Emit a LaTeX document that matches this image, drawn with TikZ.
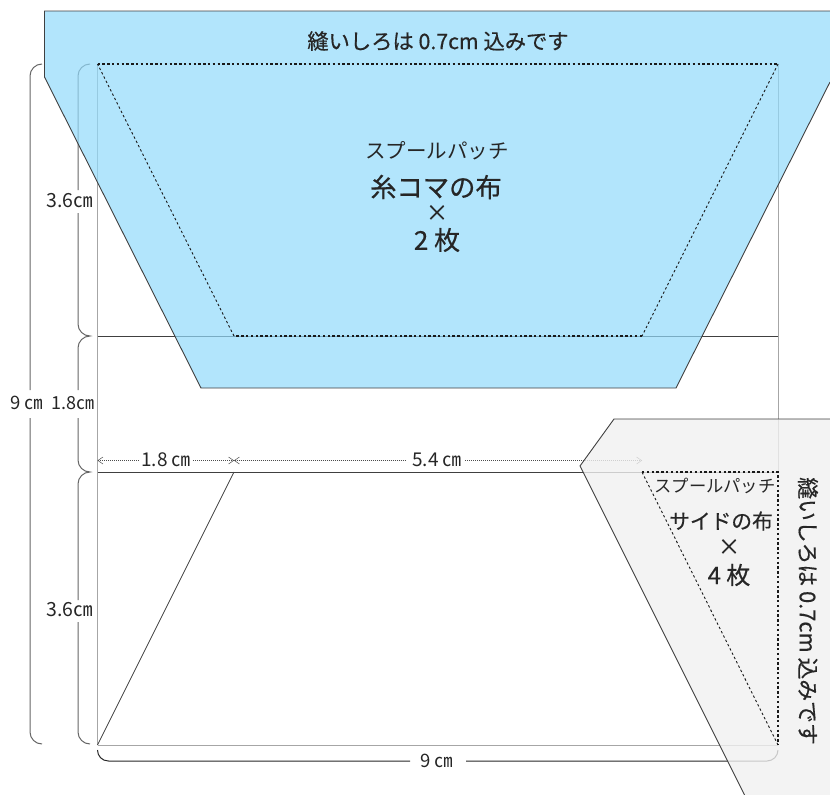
\documentclass[tikz,border=0pt]{standalone}
\usepackage{fontspec}
\setmainfont{Noto Sans CJK JP}
\newfontfamily\strongfont[FakeBold=0.5]{Noto Sans CJK JP}
\usetikzlibrary{arrows.meta}
\definecolor{ink}{HTML}{262626}
\definecolor{bluefill}{RGB}{146,218,251}
\definecolor{greyfill}{RGB}{240,240,240}
\tikzset{
  guide/.style={draw=black!35,line width=0.8pt},
  panel/.style={draw=black!75,line width=0.9pt},
  brace/.style={draw=black!60,line width=1pt},
  seam/.style={draw=black!90,line width=1.1pt,dash pattern=on 2.4pt off 2.4pt},
  seamthin/.style={draw=black!90,line width=0.9pt,dash pattern=on 2.4pt off 2.4pt},
  dim/.style={draw=black!70,line width=0.6pt,dash pattern=on 1.2pt off 0.8pt},
  dimarrow/.style={dim,{Straight Barb[length=5pt,width=7pt,line width=0.5pt]}-},
  lab/.style={text=ink,inner sep=0pt,anchor=center},
}
\newcommand{\fs}[1]{\fontsize{#1}{#1}\selectfont}
\newcommand{\cmmark}{㎝}
\begin{document}
\begin{tikzpicture}[x=1pt,y=-1pt]
\useasboundingbox (0,0) rectangle (830,795);
\clip (0,0) rectangle (830,795);
% guide lines
\draw[guide] (97.5,64) -- (97.5,745);
\draw[guide] (778,64) -- (778,472);
\draw[guide] (97.5,745) -- (778,745);
\draw[panel,line width=0.9pt] (97.5,336) -- (778,336);
\draw[panel,line width=0.9pt] (97.5,472) -- (778,472);
\draw[panel,line width=0.7pt] (234,472) -- (97.5,745);
% braces
\draw[brace] (42,64) .. controls (35.4,64) and (30,69.4) .. (30,76) -- (30,390);
\draw[brace] (30,418) -- (30,732) .. controls (30,738.6) and (35.4,744) .. (42,744);
\draw[brace] (90,64) .. controls (83.4,64) and (78,69.4) .. (78,76) -- (78,190);
\draw[brace] (78,213) -- (78,324) .. controls (78,330.6) and (83.4,336) .. (90,336) .. controls (83.4,336) and (78,341.4) .. (78,348) -- (78,390);
\draw[brace] (78,418) -- (78,460) .. controls (78,466.6) and (83.4,472) .. (90,472) .. controls (83.4,472) and (78,477.4) .. (78,484) -- (78,600);
\draw[brace] (78,622) -- (78,732) .. controls (78,738.6) and (83.4,744) .. (90,744);
\draw[brace,draw=black!85] (97.5,750) .. controls (97.5,756) and (102,761) .. (108.5,761) -- (410,761);
\draw[brace,draw=black!85] (466,761) -- (767,761) .. controls (773,761) and (778,756) .. (778,750);
% width dimensions
\draw[dimarrow] (97.5,460.5) -- (140,460.5);
\draw[dim,-{Straight Barb[length=5pt,width=7pt,line width=0.5pt]}] (193,460.5) -- (234,460.5);
\draw[dimarrow] (234,460.5) -- (405,460.5);
\draw[dim,-{Straight Barb[length=5pt,width=7pt,line width=0.5pt]}] (465,460.5) -- (642,460.5);
% panels
\fill[bluefill,fill opacity=0.7] (44.5,11) -- (830,11) -- (830,82) -- (676,388) -- (201,388) -- (44.5,77) -- cycle;
\draw[panel] (830,82) -- (676,388) -- (201,388) -- (44.5,77) -- (44.5,11) -- (830,11);
\fill[greyfill,fill opacity=0.8] (614,419) -- (830,419) -- (830,795) -- (744.5,795) -- (580,466) -- cycle;
\draw[panel] (830,419) -- (614,419) -- (580,466) -- (744.5,795);
% seam lines
\draw[seam] (97.5,64) -- (778,64);
\draw[seamthin] (778,64) -- (642,336);
\draw[seam] (642,336) -- (234,336);
\draw[seamthin] (234,336) -- (97.5,64);
\draw[seam] (642,472) -- (778,472) -- (778,745);
\draw[seamthin] (778,745) -- (642,472);
% labels
\node[lab] (title) at (438,41) {\strongfont\fs{21.3}縫いしろは 0.7cm 込みです};
\node[lab] (spoolA) at (437,151) {\fs{20.5}スプールパッチ};
\node[lab] (spoolB) at (436,187) {\strongfont\fs{26.3}糸コマの布};
\node[lab] (spoolC) at (437,213) {\strongfont\fs{22}×};
\node[lab] (spoolD) at (437,240) {\strongfont\fs{26}2 枚};
\node[lab] (sideA) at (715,486) {\fs{17.3}スプールパッチ};
\node[lab] (sideB) at (721,521) {\strongfont\fs{20.7}サイドの布};
\node[lab] (sideC) at (729,547) {\strongfont\fs{22}×};
\node[lab] (sideD) at (729,575) {\strongfont\fs{24}4 枚};
\node[lab,rotate=-90] (sideT) at (808,611) {\strongfont\fs{21.8}縫いしろは 0.7cm 込みです};
\node[lab] (d1) at (69.5,201) {\fs{19.5}3.6\cmmark};
\node[lab] (d2) at (69.5,610) {\fs{19.5}3.6\cmmark};
\node[lab] (d3) at (27,403) {\fs{18.5}9 \cmmark};
\node[lab] (d4) at (73,403) {\fs{18}1.8\cmmark};
\node[lab] (d5) at (166,460) {\fs{19}1.8 \cmmark};
\node[lab] (d6) at (437,460) {\fs{19}5.4 \cmmark};
\node[lab] (d7) at (437,761) {\fs{18.5}9 \cmmark};
\end{tikzpicture}
\end{document}
